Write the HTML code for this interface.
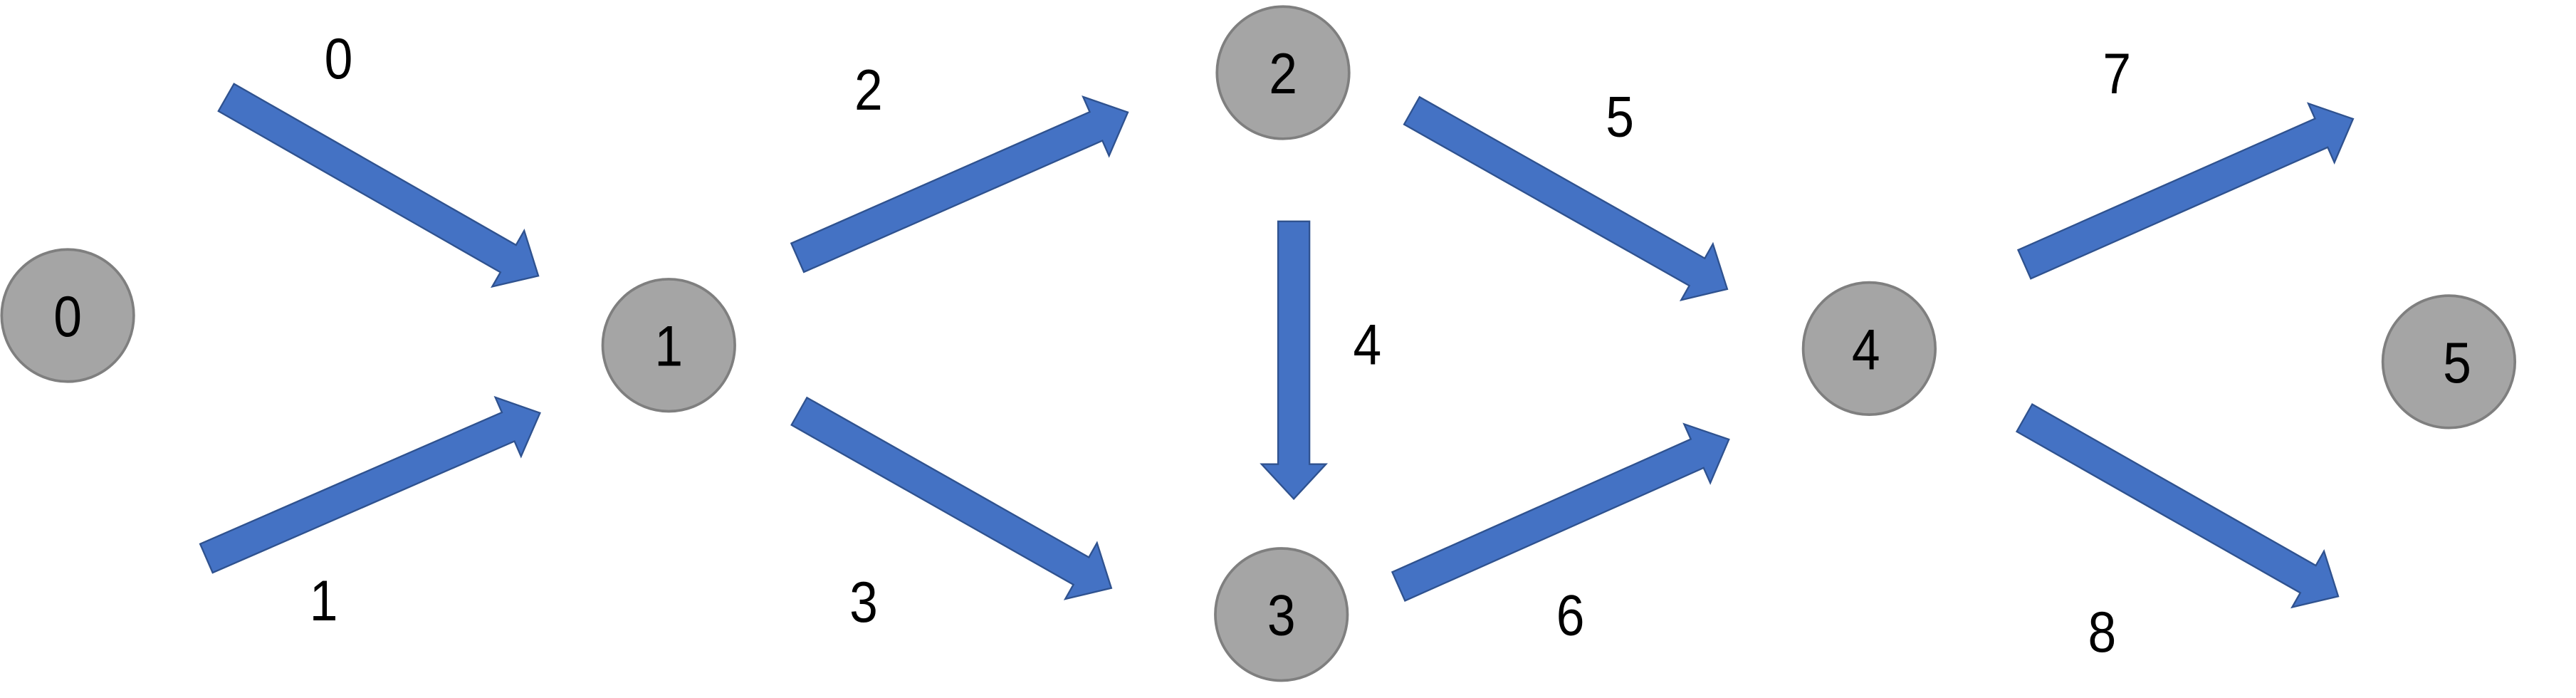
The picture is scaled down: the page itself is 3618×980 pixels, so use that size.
<!DOCTYPE html>
<html><head><meta charset="utf-8">
<style>
html,body{margin:0;padding:0;background:#fff;}
svg{display:block;}
text{font-family:"Liberation Sans",sans-serif;fill:#000;}
</style></head>
<body>
<svg id="s" width="3618" height="980" viewBox="0 0 1560 422.55" xmlns="http://www.w3.org/2000/svg">
<g id="arrows"></g>
<g fill="#A5A5A5" stroke="#7F7F7F" stroke-width="1.6">
<circle cx="41" cy="191" r="40"/>
<circle cx="405" cy="209" r="40"/>
<circle cx="777" cy="44" r="40"/>
<circle cx="776" cy="372" r="40"/>
<circle cx="1132" cy="211" r="40"/>
<circle cx="1483" cy="219" r="40"/>
</g>
<g font-size="35" text-anchor="middle" id="labels"></g>
</svg>
<script>
var A=[[137,59,326,167],[125,338,327,250],[483,156,683,68],[484,249,673,356],[783.5,134,783.5,302],[855,67,1046,175],[847,355,1047,266],[1226,160,1425,72],[1226,253,1416,361]];
var g=document.getElementById('arrows'),h='';
A.forEach(function(a){
var dx=a[2]-a[0],dy=a[3]-a[1],L=Math.sqrt(dx*dx+dy*dy),ux=dx/L,uy=dy/L,px=-uy,py=ux;
var sw=9.5,hw=19.5,hl=21;
var bx=a[2]-ux*hl,by=a[3]-uy*hl;
var p=[[a[0]+px*sw,a[1]+py*sw],[bx+px*sw,by+py*sw],[bx+px*hw,by+py*hw],[a[2],a[3]],[bx-px*hw,by-py*hw],[bx-px*sw,by-py*sw],[a[0]-px*sw,a[1]-py*sw]];
h+='<polygon points="'+p.map(function(q){return q[0].toFixed(2)+','+q[1].toFixed(2)}).join(' ')+'" fill="#4472C4" stroke="#2F528F" stroke-width="1"/>';
});
g.innerHTML=h;
var T=[[41,191,'0'],[405,209,'1'],[777,44,'2'],[776,372,'3'],[1130,211,'4'],[1488,219,'5'],
[205,35,'0'],[196,363,'1'],[526,54,'2'],[523,364,'3'],[828,208,'4'],[981,70,'5'],[951,372,'6'],[1282,44,'7'],[1273,382,'8']];
var t='';
T.forEach(function(a){
t+='<text transform="translate('+a[0]+','+(a[1]+12.5)+') scale(0.88,1)" x="0" y="0">'+a[2]+'</text>';
});
document.getElementById('labels').innerHTML=t;
</script>
</body></html>
